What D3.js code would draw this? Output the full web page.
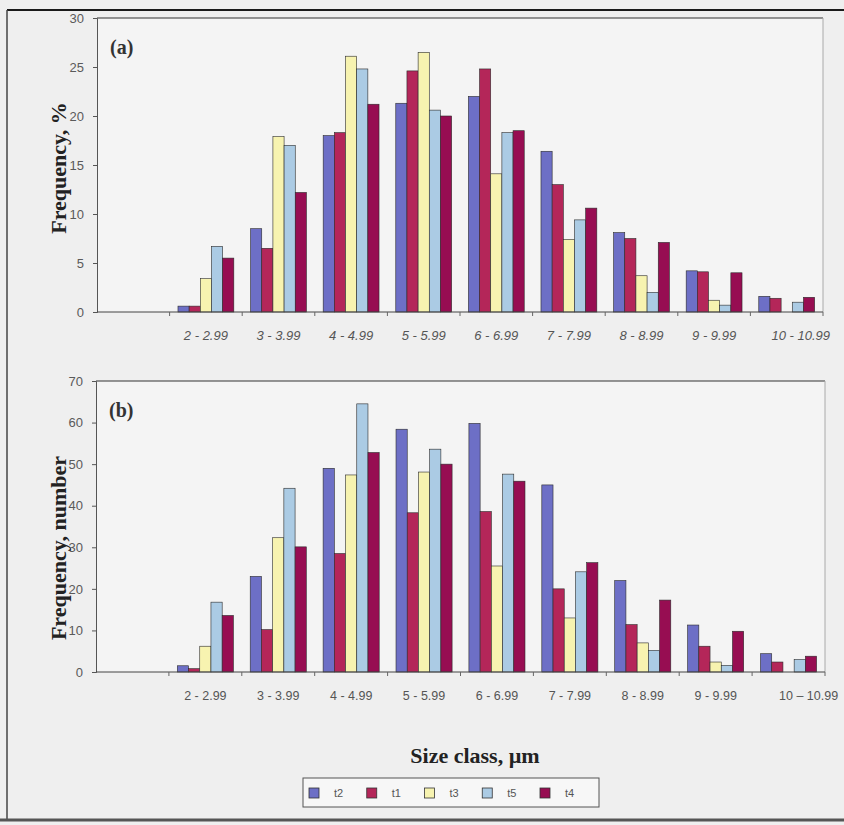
<!DOCTYPE html>
<html>
<head>
<meta charset="utf-8">
<script src="https://cdn.jsdelivr.net/npm/d3@7"></script>
<style>
  body { margin: 0; background: #ededed; }
  svg { display: block; }
</style>
</head>
<body>
<div id="chart"></div>
<script>
// size classes (first slot is an empty class, no label in the original)
const sizeClasses = ["", "2 - 2.99", "3 - 3.99", "4 - 4.99", "5 - 5.99", "6 - 6.99", "7 - 7.99", "8 - 8.99", "9 - 9.99", "10 - 10.99"];
const labelsA = ["", "2 - 2.99", "3 - 3.99", "4 - 4.99", "5 - 5.99", "6 - 6.99", "7 - 7.99", "8 - 8.99", "9 - 9.99", "10 - 10.99"];
const labelsB = ["", "2 - 2.99", "3 - 3.99", "4 - 4.99", "5 - 5.99", "6 - 6.99", "7 - 7.99", "8 - 8.99", "9 - 9.99", "10 \u2013 10.99"];

const seriesNames = ["t2", "t1", "t3", "t5", "t4"];
const seriesColors = ["#6d6fc6", "#b42659", "#f7f3b0", "#abcbe4", "#970d52"];

// (a) frequency, %
const pctT2 = [0, 0.6, 8.5, 18.0, 21.3, 22.0, 16.4, 8.1, 4.2, 1.6];
const pctT1 = [0, 0.6, 6.5, 18.3, 24.6, 24.8, 13.0, 7.5, 4.1, 1.4];
const pctT3 = [0, 3.4, 17.9, 26.1, 26.5, 14.1, 7.4, 3.7, 1.2, 0];
const pctT5 = [0, 6.7, 17.0, 24.8, 20.6, 18.3, 9.4, 2.0, 0.7, 1.0];
const pctT4 = [0, 5.5, 12.2, 21.2, 20.0, 18.5, 10.6, 7.1, 4.0, 1.5];

// (b) frequency, number
const numT2 = [0, 1.5, 23, 49, 58.4, 59.8, 45, 22, 11.3, 4.4];
const numT1 = [0, 0.8, 10.2, 28.5, 38.3, 38.6, 20, 11.4, 6.2, 2.4];
const numT3 = [0, 6.2, 32.3, 47.4, 48.1, 25.5, 13, 7, 2.4, 0];
const numT5 = [0, 16.8, 44.2, 64.5, 53.6, 47.6, 24.1, 5.2, 1.6, 3.0];
const numT4 = [0, 13.6, 30.1, 52.8, 50, 45.9, 26.3, 17.3, 9.8, 3.8];

const yTicksA = [0, 5, 10, 15, 20, 25, 30];
const yTicksB = [0, 10, 20, 30, 40, 50, 60, 70];

const W = 844, H = 825;

const svg = d3.select("#chart").append("svg")
  .attr("width", W)
  .attr("height", H);

svg.append("rect").attr("width", W).attr("height", H).attr("fill", "#efefef");

// outer frame of the figure
svg.append("line").attr("x1", 7).attr("x2", W).attr("y1", 10).attr("y2", 10)
  .attr("stroke", "#1a1a1a").attr("stroke-width", 2);
svg.append("line").attr("x1", 7).attr("x2", 7).attr("y1", 10).attr("y2", 819)
  .attr("stroke", "#444").attr("stroke-width", 1.5);
svg.append("line").attr("x1", 0).attr("x2", W).attr("y1", 820).attr("y2", 820)
  .attr("stroke", "#555").attr("stroke-width", 3);

function drawPanel(cfg){
  const g = svg.append("g");

  const x = d3.scaleBand()
    .domain(sizeClasses)
    .range([cfg.left, cfg.right])
    .padding(0);

  const xs = d3.scaleBand()
    .domain(seriesNames)
    .range([0, x.bandwidth()])
    .paddingInner(0)
    .paddingOuter(0.75);

  const y = d3.scaleLinear()
    .domain([0, cfg.yMax])
    .range([cfg.bottom, cfg.top]);

  // plot area
  g.append("rect")
    .attr("x", cfg.left).attr("y", cfg.top)
    .attr("width", cfg.right - cfg.left).attr("height", cfg.bottom - cfg.top)
    .attr("fill", "#f4f4f4");
  g.append("line")
    .attr("x1", cfg.left).attr("x2", cfg.right).attr("y1", cfg.top).attr("y2", cfg.top)
    .attr("stroke", "#333").attr("stroke-width", 1.2);
  g.append("line")
    .attr("x1", cfg.right).attr("x2", cfg.right).attr("y1", cfg.top).attr("y2", cfg.bottom)
    .attr("stroke", "#aaa");

  // bars
  const groups = g.selectAll(".cls")
    .data(sizeClasses)
    .join("g")
      .attr("class", "cls")
      .attr("transform", d => `translate(${x(d)},0)`);

  groups.selectAll("rect")
    .data((d, i) => seriesNames.map((s, k) => ({ s: s, v: cfg.values[k][i], c: seriesColors[k] })).filter(e => e.v > 0))
    .join("rect")
      .attr("x", d => xs(d.s))
      .attr("y", d => y(d.v))
      .attr("width", xs.bandwidth())
      .attr("height", d => cfg.bottom - y(d.v))
      .attr("fill", d => d.c)
      .attr("stroke", "#2b2b2b")
      .attr("stroke-width", 0.6);

  // y axis
  const yAxis = g.append("g")
    .attr("transform", `translate(${cfg.left},0)`)
    .call(d3.axisLeft(y).tickValues(cfg.yTicks).tickSize(4).tickPadding(9));
  yAxis.select(".domain").attr("stroke", "#555");
  yAxis.selectAll(".tick line").attr("stroke", "#555");
  yAxis.selectAll("text")
    .attr("fill", "#5a5a5a")
    .style("font-family", "Liberation Sans, Arial, sans-serif")
    .style("font-size", "13px");

  // x axis line with ticks between classes
  g.append("line")
    .attr("x1", cfg.left).attr("x2", cfg.right)
    .attr("y1", cfg.bottom).attr("y2", cfg.bottom)
    .attr("stroke", "#444");
  g.selectAll(".xtick")
    .data(sizeClasses.slice(1).map(d => x(d)).concat([cfg.right]))
    .join("line")
      .attr("class", "xtick")
      .attr("x1", d => d).attr("x2", d => d)
      .attr("y1", cfg.bottom).attr("y2", cfg.bottom + 4)
      .attr("stroke", "#666");

  g.selectAll(".xlab")
    .data(sizeClasses)
    .join("text")
      .attr("class", "xlab")
      .attr("x", (d, i) => x(d) + x.bandwidth() / 2 + (i === sizeClasses.length - 1 ? cfg.lastShift : 0))
      .attr("y", cfg.bottom + cfg.labelGap)
      .attr("text-anchor", "middle")
      .attr("fill", "#555")
      .style("font-family", "Liberation Sans, Arial, sans-serif")
      .style("font-size", cfg.labelSize)
      .style("font-style", cfg.italic ? "italic" : "normal")
      .text((d, i) => cfg.labels[i]);

  // panel tag
  g.append("text")
    .attr("x", cfg.left + 13)
    .attr("y", cfg.top + 36)
    .attr("fill", "#333")
    .style("font-family", "Liberation Serif, Times New Roman, serif")
    .style("font-weight", "bold")
    .style("font-size", "20px")
    .text(cfg.tag);

  // y title
  g.append("text")
    .attr("transform", `translate(66,${cfg.titleY}) rotate(-90)`)
    .attr("text-anchor", "middle")
    .attr("fill", "#222")
    .style("font-family", "Liberation Serif, Times New Roman, serif")
    .style("font-weight", "bold")
    .style("font-size", "22px")
    .text(cfg.yTitle);
}

drawPanel({
  left: 97, right: 823, top: 18, bottom: 312,
  yMax: 30, yTicks: yTicksA,
  values: [pctT2, pctT1, pctT3, pctT5, pctT4],
  labels: labelsA, italic: true, labelSize: "13px", labelGap: 28, lastShift: 14,
  tag: "(a)", yTitle: "Frequency, %", titleY: 168
});

drawPanel({
  left: 96, right: 825, top: 381, bottom: 672,
  yMax: 70, yTicks: yTicksB,
  values: [numT2, numT1, numT3, numT5, numT4],
  labels: labelsB, italic: false, labelSize: "12.5px", labelGap: 28, lastShift: 20,
  tag: "(b)", yTitle: "Frequency, number", titleY: 548
});

// x title
svg.append("text")
  .attr("x", 475)
  .attr("y", 763)
  .attr("text-anchor", "middle")
  .attr("fill", "#222")
  .style("font-family", "Liberation Serif, Times New Roman, serif")
  .style("font-weight", "bold")
  .style("font-size", "22px")
  .text("Size class, \u00b5m");

// legend
const legend = svg.append("g").attr("transform", "translate(303,778)");
legend.append("rect")
  .attr("width", 296).attr("height", 29)
  .attr("fill", "#f7f7f7")
  .attr("stroke", "#555");

const legX = d3.scalePoint()
  .domain(seriesNames)
  .range([6, 237]);

const item = legend.selectAll(".item")
  .data(seriesNames)
  .join("g")
    .attr("class", "item")
    .attr("transform", d => `translate(${legX(d)},0)`);

item.append("rect")
  .attr("y", 10).attr("width", 10).attr("height", 10)
  .attr("fill", (d, i) => seriesColors[i])
  .attr("stroke", "#333").attr("stroke-width", 0.8);

item.append("text")
  .attr("x", 25).attr("y", 19)
  .attr("fill", "#555")
  .style("font-family", "Liberation Sans, Arial, sans-serif")
  .style("font-size", "11px")
  .text(d => d);
</script>
</body>
</html>
